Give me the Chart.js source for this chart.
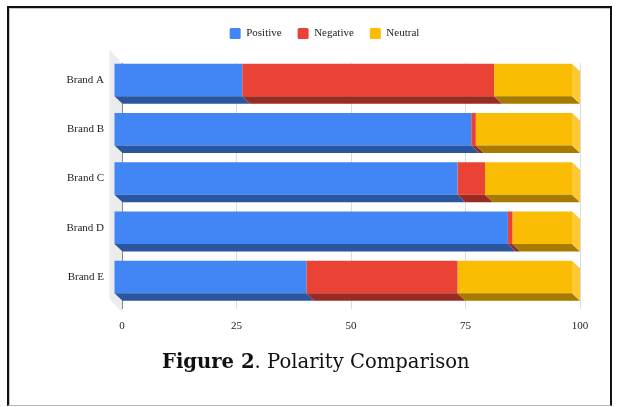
<!DOCTYPE html>
<html>
<head>
<meta charset="utf-8">
<script src="https://cdn.jsdelivr.net/npm/chart.js@4/dist/chart.umd.min.js"></script>
<style>
  html, body { margin: 0; padding: 0; background: #fff; }
  #frame {
    position: absolute; left: 7px; top: 6px; width: 601px; height: 397px;
    border-left: 2px solid #111; border-top: 2px solid #111; border-right: 2px solid #111;
    border-bottom: 1px solid #b5b5b5;
    box-shadow: inset 1px 1px 0 #c8c8c8;
  }
  #chart { position: absolute; left: 0; top: 0; }
  #caption {
    position: absolute; left: 162px; top: 350px; white-space: nowrap;
    font-family: "DejaVu Serif", serif; font-size: 19.6px; color: #111;
  }
</style>
</head>
<body>
<div id="frame"></div>
<canvas id="chart" width="619" height="407"></canvas>
<div id="caption"><b>Figure 2</b>. Polarity Comparison</div>
<script>
// Sentiment split per brand (percent of mentions)
const brands   = ['Brand A', 'Brand B', 'Brand C', 'Brand D', 'Brand E'];
const positive = [28, 78, 75, 86, 42];
const negative = [55, 1, 6, 1, 33];
const neutral  = [17, 21, 19, 13, 25];
const xTicks   = [0, 25, 50, 75, 100];

// Face colours: front, shaded underside, lit end cap
const palette = {
  Positive: { front: '#4285f4', bottom: '#2a56a0', side: '#6fa0f6' },
  Negative: { front: '#ea4335', bottom: '#9a2b23', side: '#ef6c62' },
  Neutral:  { front: '#fbbc04', bottom: '#a67b00', side: '#fcc934' }
};

// Depth of the extruded bars (back plane sits right and below the front face)
const DX = 8, DY = 7.5;
const LEGEND_HEIGHT = 51;
const serif = '"Liberation Serif", "Times New Roman", serif';

const extrude = {
  id: 'extrude',
  beforeLayout(chart) {
    // reserve a fixed band for the legend above the plot
    const lg = chart.legend;
    if (lg && !lg._fixedFit) {
      const fit = lg.fit.bind(lg);
      lg.fit = function () { fit(); this.height = LEGEND_HEIGHT; };
      lg._fixedFit = true;
    }
  },
  beforeDraw(chart) {
    // side wall next to the category axis
    const { ctx, chartArea: a } = chart;
    ctx.save();
    ctx.fillStyle = '#ececec';
    ctx.beginPath();
    ctx.moveTo(a.left - 12.5, a.top - 13);
    ctx.lineTo(a.left, a.top);
    ctx.lineTo(a.left, a.bottom + 3);
    ctx.lineTo(a.left - 12.5, a.bottom - 10);
    ctx.closePath();
    ctx.fill();
    ctx.restore();
  },
  beforeDatasetsDraw(chart) {
    chart.ctx.save();
    chart.ctx.translate(-DX, -DY);
  },
  afterDatasetsDraw(chart) {
    const ctx = chart.ctx;
    const n = chart.data.datasets.length;
    chart.data.datasets.forEach((ds, di) => {
      const meta = chart.getDatasetMeta(di);
      const col = palette[ds.label];
      meta.data.forEach((bar) => {
        const { x, y, base, height } = bar.getProps(['x', 'y', 'base', 'height'], true);
        const x1 = Math.min(x, base), x2 = Math.max(x, base);
        const yt = y - height / 2, yb = y + height / 2;
        if (x2 - x1 <= 0) return;
        // underside
        ctx.fillStyle = col.bottom;
        ctx.beginPath();
        ctx.moveTo(x1, yb);
        ctx.lineTo(x2, yb);
        ctx.lineTo(x2 + DX, yb + DY);
        ctx.lineTo(x1 + DX, yb + DY);
        ctx.closePath();
        ctx.fill();
        // end cap on the outermost segment
        if (di === n - 1) {
          ctx.fillStyle = col.side;
          ctx.beginPath();
          ctx.moveTo(x2, yt);
          ctx.lineTo(x2 + DX, yt + DY);
          ctx.lineTo(x2 + DX, yb + DY);
          ctx.lineTo(x2, yb);
          ctx.closePath();
          ctx.fill();
        }
      });
    });
    ctx.restore();
  }
};

const series = [
  ['Positive', positive],
  ['Negative', negative],
  ['Neutral', neutral]
];

new Chart(document.getElementById('chart'), {
  type: 'bar',
  data: {
    labels: brands,
    datasets: series.map(([label, values]) => ({
      label,
      data: values,
      backgroundColor: palette[label].front,
      borderWidth: 0,
      categoryPercentage: 1,
      barPercentage: 0.66,
      clip: false
    }))
  },
  options: {
    indexAxis: 'y',
    responsive: false,
    animation: false,
    layout: { padding: { left: 60, right: 30, top: 12, bottom: 0 } },
    plugins: {
      tooltip: { enabled: false },
      legend: {
        position: 'top',
        labels: {
          font: { family: serif, size: 11 },
          color: '#222',
          boxWidth: 11,
          boxHeight: 11,
          padding: 16,
          useBorderRadius: true,
          borderRadius: 1.5
        }
      }
    },
    scales: {
      x: {
        stacked: true,
        min: 0,
        max: 100,
        afterBuildTicks(scale) { scale.ticks = xTicks.map(v => ({ value: v })); },
        afterFit(scale) { scale.height = 98; },
        border: { display: false },
        grid: {
          drawTicks: false,
          color: (c) => (c.tick && c.tick.value === 0 ? '#8a8a8a' : '#dcdcdc')
        },
        ticks: { font: { family: serif, size: 11 }, color: '#222', padding: 11 }
      },
      y: {
        stacked: true,
        afterFit(scale) { scale.width = 62; },
        border: { display: false },
        grid: { display: false, drawTicks: false },
        ticks: { font: { family: serif, size: 11 }, color: '#222', padding: 18, labelOffset: -DY }
      },
      // empty margin on the right so the plot ends where the end caps fit
      yRight: {
        type: 'category',
        position: 'right',
        labels: brands,
        afterFit(scale) { scale.width = 9; },
        border: { display: false },
        grid: { display: false, drawTicks: false },
        ticks: { display: false }
      }
    }
  },
  plugins: [extrude]
});
</script>
</body>
</html>
